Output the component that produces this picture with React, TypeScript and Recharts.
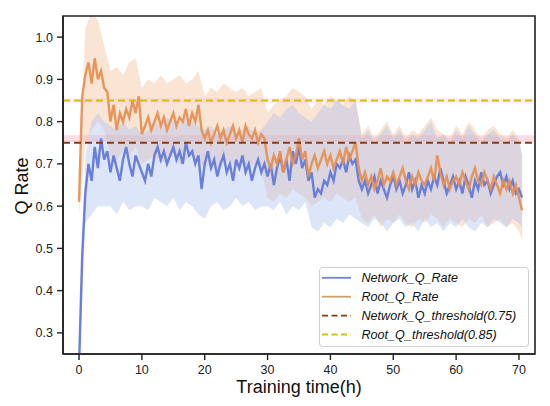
import React from "react";
import {
  ComposedChart,
  Line,
  Area,
  XAxis,
  YAxis,
  ReferenceLine,
  ReferenceArea,
  Legend,
} from "recharts";

// sampling grid of the two rate curves (hours)
const hours = [
  0, 0.5, 1, 1.5, 2, 2.5, 3, 3.5, 4, 4.5,
  5, 5.5, 6, 6.5, 7, 7.5, 8, 8.5, 9, 9.5,
  10, 10.5, 11, 11.5, 12, 12.5, 13, 13.5, 14, 14.5,
  15, 15.5, 16, 16.5, 17, 17.5, 18, 18.5, 19, 19.5,
  20, 20.5, 21, 21.5, 22, 22.5, 23, 23.5, 24, 24.5,
  25, 25.5, 26, 26.5, 27, 27.5, 28, 28.5, 29, 29.5,
  30, 30.5, 31, 31.5, 32, 32.5, 33, 33.5, 34, 34.5,
  35, 35.5, 36, 36.5, 37, 37.5, 38, 38.5, 39, 39.5,
  40, 40.5, 41, 41.5, 42, 42.5, 43, 43.5, 44, 44.5,
  45, 45.5, 46, 46.5, 47, 47.5, 48, 48.5, 49, 49.5,
  50, 50.5, 51, 51.5, 52, 52.5, 53, 53.5, 54, 54.5,
  55, 55.5, 56, 56.5, 57, 57.5, 58, 58.5, 59, 59.5,
  60, 60.5, 61, 61.5, 62, 62.5, 63, 63.5, 64, 64.5,
  65, 65.5, 66, 66.5, 67, 67.5, 68, 68.5, 69, 69.5,
  70, 70.5,
];

const networkRate = [
  0.22, 0.48, 0.63, 0.70, 0.66, 0.74, 0.69, 0.76, 0.71, 0.73,
  0.68, 0.72, 0.69, 0.66, 0.71, 0.74, 0.70, 0.67, 0.72, 0.70,
  0.68, 0.66, 0.70, 0.67, 0.72, 0.74, 0.71, 0.73, 0.70, 0.72,
  0.74, 0.71, 0.73, 0.70, 0.75, 0.72, 0.73, 0.70, 0.72, 0.64,
  0.70, 0.73, 0.69, 0.71, 0.67, 0.70, 0.72, 0.68, 0.70, 0.66,
  0.71, 0.69, 0.72, 0.68, 0.70, 0.66, 0.69, 0.71, 0.68, 0.70,
  0.67, 0.70, 0.65, 0.69, 0.72, 0.68, 0.71, 0.66, 0.73, 0.70,
  0.74, 0.69, 0.71, 0.66, 0.68, 0.62, 0.64, 0.63, 0.66, 0.65,
  0.68, 0.66, 0.70, 0.69, 0.71, 0.68, 0.72, 0.70, 0.71, 0.66,
  0.64, 0.66, 0.63, 0.65, 0.67, 0.63, 0.66, 0.64, 0.62, 0.65,
  0.67, 0.64, 0.66, 0.63, 0.65, 0.68, 0.64, 0.66, 0.62, 0.65,
  0.63, 0.66, 0.64, 0.67, 0.65, 0.69, 0.66, 0.63, 0.65, 0.67,
  0.64, 0.66, 0.63, 0.67, 0.65, 0.62, 0.66, 0.64, 0.68, 0.65,
  0.66, 0.63, 0.65, 0.67, 0.68, 0.65, 0.67, 0.64, 0.66, 0.63,
  0.64, 0.62,
];

const rootRate = [
  0.61, 0.86, 0.91, 0.94, 0.89, 0.95, 0.90, 0.92, 0.88, 0.87,
  0.80, 0.84, 0.78, 0.82, 0.80, 0.83, 0.81, 0.85, 0.82, 0.86,
  0.77, 0.79, 0.81, 0.78, 0.80, 0.82, 0.79, 0.81, 0.78, 0.80,
  0.82, 0.79, 0.81, 0.80, 0.83, 0.79, 0.82, 0.80, 0.84, 0.78,
  0.76, 0.78, 0.75, 0.77, 0.79, 0.76, 0.78, 0.75, 0.77, 0.79,
  0.76, 0.78, 0.75, 0.79, 0.77, 0.76, 0.78, 0.75, 0.77, 0.76,
  0.71, 0.69, 0.72, 0.70, 0.73, 0.68, 0.71, 0.74, 0.70, 0.72,
  0.76, 0.71, 0.73, 0.67, 0.70, 0.72, 0.69, 0.71, 0.73, 0.70,
  0.72, 0.69, 0.71, 0.73, 0.70, 0.74, 0.71, 0.73, 0.75, 0.69,
  0.66, 0.68, 0.65, 0.67, 0.64, 0.66, 0.69, 0.65, 0.67, 0.66,
  0.68, 0.65, 0.67, 0.69, 0.66, 0.64, 0.67, 0.65, 0.68, 0.66,
  0.65, 0.67, 0.69, 0.66, 0.72, 0.68, 0.65, 0.67, 0.64, 0.66,
  0.67, 0.65, 0.68, 0.66, 0.64, 0.67, 0.69, 0.66, 0.65, 0.68,
  0.66, 0.64, 0.67, 0.65, 0.63, 0.66, 0.64, 0.66, 0.63, 0.65,
  0.62, 0.59,
];

// shaded spread around each curve, one value per hour
const bandHours = [
  0, 1, 2, 3, 4, 5, 6, 7, 8, 9,
  10, 11, 12, 13, 14, 15, 16, 17, 18, 19,
  20, 21, 22, 23, 24, 25, 26, 27, 28, 29,
  30, 31, 32, 33, 34, 35, 36, 37, 38, 39,
  40, 41, 42, 43, 44, 45, 46, 47, 48, 49,
  50, 51, 52, 53, 54, 55, 56, 57, 58, 59,
  60, 61, 62, 63, 64, 65, 66, 67, 68, 69,
  70, 70.5,
];

const networkLow = [
  0.20, 0.56, 0.58, 0.60, 0.60, 0.60, 0.58, 0.61, 0.59, 0.60,
  0.60, 0.59, 0.62, 0.61, 0.60, 0.62, 0.59, 0.61, 0.60, 0.58,
  0.57, 0.60, 0.61, 0.59, 0.60, 0.62, 0.60, 0.61, 0.59, 0.60,
  0.60, 0.59, 0.61, 0.58, 0.60, 0.59, 0.61, 0.55, 0.54, 0.56,
  0.55, 0.57, 0.56, 0.58, 0.57, 0.56, 0.55, 0.57, 0.56, 0.54,
  0.56, 0.57, 0.55, 0.56, 0.54, 0.57, 0.55, 0.56, 0.54, 0.56,
  0.55, 0.57, 0.55, 0.54, 0.56, 0.55, 0.57, 0.56, 0.55, 0.57,
  0.56, 0.55,
];

const networkHigh = [
  0.30, 0.72, 0.80, 0.82, 0.80, 0.79, 0.78, 0.80, 0.78, 0.79,
  0.77, 0.78, 0.80, 0.79, 0.81, 0.80, 0.79, 0.81, 0.80, 0.79,
  0.78, 0.79, 0.77, 0.78, 0.79, 0.77, 0.78, 0.79, 0.77, 0.78,
  0.80, 0.82, 0.81, 0.83, 0.84, 0.82, 0.81, 0.80, 0.82, 0.84,
  0.83, 0.85, 0.84, 0.83, 0.85, 0.76, 0.78, 0.75, 0.77, 0.79,
  0.76, 0.78, 0.75, 0.77, 0.76, 0.78, 0.80, 0.76, 0.77, 0.75,
  0.78, 0.76, 0.79, 0.77, 0.75, 0.77, 0.78, 0.76, 0.75, 0.77,
  0.75, 0.72,
];

const rootLow = [
  0.58, 0.74, 0.78, 0.80, 0.78, 0.72, 0.71, 0.73, 0.72, 0.74,
  0.70, 0.71, 0.72, 0.70, 0.71, 0.72, 0.70, 0.71, 0.72, 0.71,
  0.69, 0.70, 0.69, 0.70, 0.71, 0.69, 0.70, 0.69, 0.70, 0.69,
  0.62, 0.61, 0.63, 0.62, 0.64, 0.63, 0.62, 0.60, 0.61, 0.62,
  0.61, 0.63, 0.62, 0.61, 0.62, 0.57, 0.56, 0.58, 0.55, 0.57,
  0.56, 0.58, 0.56, 0.55, 0.57, 0.56, 0.58, 0.57, 0.55, 0.57,
  0.56, 0.55, 0.57, 0.56, 0.58, 0.55, 0.56, 0.57, 0.55, 0.56,
  0.54, 0.52,
];

const rootHigh = [
  0.66, 1.02, 1.06, 1.04, 0.98, 0.92, 0.93, 0.91, 0.94, 0.95,
  0.88, 0.90, 0.89, 0.91, 0.89, 0.90, 0.91, 0.89, 0.90, 0.92,
  0.86, 0.88, 0.87, 0.89, 0.88, 0.87, 0.88, 0.86, 0.87, 0.88,
  0.82, 0.84, 0.85, 0.86, 0.88, 0.87, 0.86, 0.83, 0.85, 0.84,
  0.86, 0.85, 0.84, 0.86, 0.85, 0.77, 0.79, 0.76, 0.78, 0.80,
  0.77, 0.79, 0.76, 0.78, 0.77, 0.79, 0.81, 0.78, 0.77, 0.76,
  0.79, 0.77, 0.80, 0.78, 0.76, 0.78, 0.79, 0.77, 0.76, 0.78,
  0.76, 0.72,
];

const networkThreshold = 0.75;
const rootThreshold = 0.85;

const xTicks = [0, 10, 20, 30, 40, 50, 60, 70];
const yTicks = [0.3, 0.4, 0.5, 0.6, 0.7, 0.8, 0.9, 1.0];

const legendItems = [
  { name: "Network_Q_Rate", color: "#6f82da", dashed: false },
  { name: "Root_Q_Rate", color: "#c9a36e", dashed: false },
  { name: "Network_Q_threshold(0.75)", color: "#8c3a14", dashed: true },
  { name: "Root_Q_threshold(0.85)", color: "#cfc21a", dashed: true },
];

const rows = hours.map((t, i) => ({
  t,
  network: networkRate[i],
  root: rootRate[i],
}));

const bandRows = bandHours.map((t, i) => ({
  t,
  networkBand: [networkLow[i], networkHigh[i]],
  rootBand: [rootLow[i], rootHigh[i]],
}));

const font = "'Liberation Sans', Arial, Helvetica, sans-serif";
const axisColor = "#222";

const LegendBox = () => (
  <svg width={211} height={81} style={{ display: "block" }}>
    <rect
      x={0.5}
      y={0.5}
      width={209}
      height={79}
      rx={3}
      fill="#fff"
      fillOpacity={0.85}
      stroke="#cfcfcf"
    />
    {legendItems.map((item, i) => {
      const y = 10.8 + i * 18.9;
      return (
        <g key={item.name}>
          <line
            x1={3}
            x2={32}
            y1={y}
            y2={y}
            stroke={item.color}
            strokeWidth={1.8}
            strokeDasharray={item.dashed ? "6 3.5" : undefined}
          />
          <text
            x={42.5}
            y={y + 4.5}
            fontSize={12.6}
            fontStyle="italic"
            fontFamily={font}
            fill="#111"
          >
            {item.name}
          </text>
        </g>
      );
    })}
  </svg>
);

export default function App() {
  return (
    <div style={{ width: 550, height: 406, background: "#fff" }}>
      <style>{"body{margin:0}"}</style>
      <ComposedChart
        width={550}
        height={406}
        data={rows}
        margin={{ top: 16, right: 15, left: 0, bottom: 0 }}
      >
        <XAxis
          dataKey="t"
          type="number"
          domain={[-2.55, 72.55]}
          ticks={xTicks}
          allowDataOverflow
          height={52}
          tickSize={6}
          tickMargin={5}
          axisLine={{ stroke: axisColor, strokeWidth: 1.6 }}
          tickLine={{ stroke: axisColor, strokeWidth: 1.4 }}
          tick={{ fontSize: 12.5, fill: axisColor, fontFamily: font }}
          label={{
            value: "Training time(h)",
            position: "insideBottom",
            offset: 13,
            fontSize: 18,
            fill: "#111",
            fontFamily: font,
          }}
        />
        <YAxis
          type="number"
          domain={[0.25, 1.05]}
          ticks={yTicks}
          allowDataOverflow
          width={63}
          tickSize={6}
          tickMargin={4}
          tickFormatter={(v: number) => v.toFixed(1)}
          axisLine={{ stroke: axisColor, strokeWidth: 1.6 }}
          tickLine={{ stroke: axisColor, strokeWidth: 1.4 }}
          tick={{ fontSize: 12.5, fill: axisColor, fontFamily: font }}
          label={{
            content: () => (
              <text
                x={28}
                y={186}
                transform="rotate(-90, 28, 186)"
                textAnchor="middle"
                fontSize={18}
                fontFamily={font}
                fill="#111"
              >
                Q Rate
              </text>
            ),
          }}
        />
        <ReferenceArea
          y1={0.752}
          y2={0.768}
          fill="#ffb3c6"
          fillOpacity={0.45}
          stroke="none"
        />
        <ReferenceArea
          y1={0.844}
          y2={0.856}
          fill="#ffc6d4"
          fillOpacity={0.3}
          stroke="none"
        />
        <Area
          data={bandRows}
          dataKey="rootBand"
          type="linear"
          stroke="none"
          fill="#f3bf98"
          fillOpacity={0.42}
          isAnimationActive={false}
          legendType="none"
        />
        <Area
          data={bandRows}
          dataKey="networkBand"
          type="linear"
          stroke="none"
          fill="#a9bdee"
          fillOpacity={0.4}
          isAnimationActive={false}
          legendType="none"
        />
        <Line
          dataKey="network"
          type="linear"
          stroke="#6a7fd9"
          strokeWidth={2.4}
          strokeLinejoin="miter"
          dot={false}
          isAnimationActive={false}
        />
        <Line
          dataKey="root"
          type="linear"
          stroke="#e68f52"
          strokeWidth={2.4}
          strokeLinejoin="miter"
          strokeOpacity={0.93}
          dot={false}
          isAnimationActive={false}
        />
        <ReferenceLine
          y={networkThreshold}
          stroke="#8c3a14"
          strokeWidth={2}
          strokeDasharray="7 4"
        />
        <ReferenceLine
          y={rootThreshold}
          stroke="#d4bc10"
          strokeWidth={1.8}
          strokeDasharray="7 4"
        />
        <ReferenceArea
          x1={-2.55}
          x2={72.55}
          y1={0.25}
          y2={1.05}
          fill="none"
          stroke={axisColor}
          strokeWidth={1.6}
        />
        <Legend
          layout="vertical"
          align="center"
          verticalAlign="middle"
          content={() => <LegendBox />}
          wrapperStyle={{ left: 319, top: 267, width: 211, height: 81 }}
        />
      </ComposedChart>
    </div>
  );
}
